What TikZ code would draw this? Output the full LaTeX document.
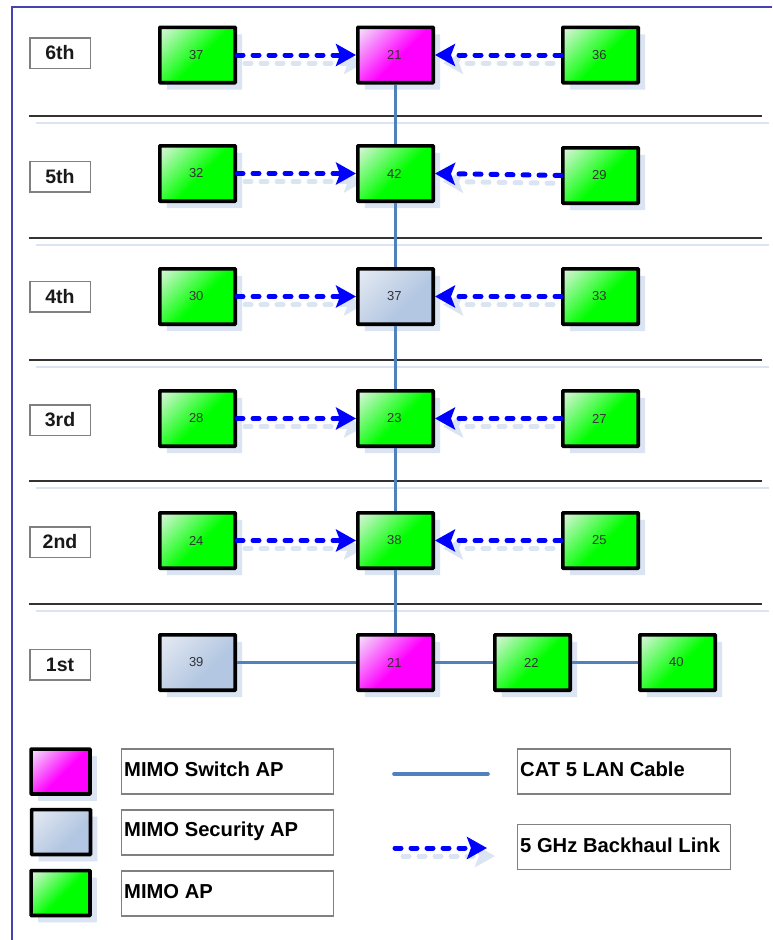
\documentclass[tikz,border=0pt]{standalone}
\usepackage{fontspec}
\setmainfont{Liberation Sans}
\usetikzlibrary{arrows.meta,shadows}
\pgfdeclarelayer{bg}
\pgfsetlayers{bg,main}
\definecolor{shadowblue}{HTML}{DAE4F2}
\definecolor{cable}{HTML}{4F81BD}
\definecolor{frameblue}{HTML}{4343B5}
\definecolor{apg}{HTML}{00FF00}
\definecolor{apgl}{HTML}{DDF5DD}
\definecolor{apm}{HTML}{FF00FF}
\definecolor{apml}{HTML}{F2E6FA}
\definecolor{aps}{HTML}{B4C7E2}
\definecolor{apsl}{HTML}{E6EBF3}
\pgfdeclareverticalshading{mimog}{100bp}{color(0bp)=(apg); color(47bp)=(apg); color(85bp)=(apgl); color(100bp)=(apgl)}
\pgfdeclareverticalshading{mimom}{100bp}{color(0bp)=(apm); color(47bp)=(apm); color(85bp)=(apml); color(100bp)=(apml)}
\pgfdeclareverticalshading{mimos}{100bp}{color(0bp)=(aps); color(40bp)=(aps); color(85bp)=(apsl); color(100bp)=(apsl)}
\tikzset{
  x=1pt,y=-1pt,
  apbox/.style={draw=black,line width=3.6pt,rounded corners=0.6pt,minimum width=75.4pt,minimum height=55.4pt,
    inner sep=0pt,shading angle=45,text=black!80,font=\fontsize{13}{15}\selectfont,
    execute at begin node=\kern-2.5pt,
    drop shadow={shadow xshift=7pt,shadow yshift=-7pt,fill=shadowblue,opacity=1}},
  apgreen/.style={apbox,shading=mimog},
  apswitch/.style={apbox,shading=mimom},
  apsec/.style={apbox,shading=mimos},
  swatch/.style={minimum width=58.9pt,minimum height=44.9pt},
  floor/.style={draw=black!50,line width=1.5pt,fill=white,minimum width=60.5pt,minimum height=30.5pt,inner sep=0pt,
    font=\bfseries\fontsize{19.5}{22}\selectfont,text=black!90},
  legendtext/.style={draw=black!50,line width=1.4pt,fill=white,minimum width=212.5pt,minimum height=45pt,inner sep=0pt},
  legendlabel/.style={anchor=west,inner sep=0pt,font=\bfseries\fontsize{20.2}{23}\selectfont,text=black},
  sepline/.style={draw=black!80,line width=2pt},
  sepshadow/.style={draw=shadowblue,line width=2pt},
  lan/.style={draw=cable,line width=3.6pt},
  link/.style={draw=blue,line width=5pt,line cap=round,dash pattern=on 6pt off 10pt,
    -{Stealth[length=20pt,width=22pt,inset=4pt,line cap=butt]}},
  linkshadow/.style={draw=shadowblue,line width=5pt,line cap=round,dash pattern=on 6pt off 10pt,
    -{Stealth[length=20pt,width=22pt,inset=4pt,line cap=butt]}},
}
\begin{document}
\begin{tikzpicture}
\useasboundingbox (0,0) rectangle (772,940);
\begin{pgfonlayer}{bg}
  \fill[white] (0,0) rectangle (772,940);
\end{pgfonlayer}
% frame
\coordinate (fa) at (11.5,940);
\coordinate (fb) at (11.5,6.5);
\coordinate (fc) at (772,6.5);
\draw[frameblue,line width=2pt] (fa) -- (fb) -- (fc);
% separators
\foreach \n/\y in {s1/116,s2/238,s3/360,s4/481,s5/604}{
  \coordinate (\n a) at (29,\y);
  \coordinate (\n b) at (762,\y);
  \coordinate (\n c) at (36,\y+7);
  \coordinate (\n d) at (769,\y+7);
  \begin{pgfonlayer}{bg}
    \draw[sepshadow] (\n c) -- (\n d);
  \end{pgfonlayer}
  \draw[sepline] (\n a) -- (\n b);
}
% floor labels
\node[floor] (f6) at (60,53) {6th};
\node[floor] (f5) at (60,176.5) {5th};
\node[floor] (f4) at (60,296.5) {4th};
\node[floor] (f3) at (60,420) {3rd};
\node[floor] (f2) at (60,542) {2nd};
\node[floor] (f1) at (60,664.5) {1st};
% access points
\node[apgreen] (a6l) at (197.5,55) {37};
\node[apswitch] (a6m) at (395.5,55) {21};
\node[apgreen] (a6r) at (600.5,55) {36};
\node[apgreen] (a5l) at (197.5,173.5) {32};
\node[apgreen] (a5m) at (395.5,173.5) {42};
\node[apgreen] (a5r) at (600.5,175.5) {29};
\node[apgreen] (a4l) at (197.5,296.5) {30};
\node[apsec] (a4m) at (395.5,296.5) {37};
\node[apgreen] (a4r) at (600.5,296.5) {33};
\node[apgreen] (a3l) at (197.5,418.5) {28};
\node[apgreen] (a3m) at (395.5,418.5) {23};
\node[apgreen] (a3r) at (600.5,418.5) {27};
\node[apgreen] (a2l) at (197.5,540.5) {24};
\node[apgreen] (a2m) at (395.5,540.5) {38};
\node[apgreen] (a2r) at (600.5,540.5) {25};
\node[apsec] (a1l) at (197.5,662.5) {39};
\node[apswitch] (a1m) at (395.5,662.5) {21};
\node[apgreen] (a1a) at (532.5,662.5) {22};
\node[apgreen] (a1b) at (677.5,662.5) {40};
% cables
\foreach \p/\q in {a6m/a5m,a5m/a4m,a4m/a3m,a3m/a2m,a2m/a1m}{
  \draw[lan] (\p.south) -- (\q.north);
}
\foreach \p/\q in {a1l/a1m,a1m/a1a,a1a/a1b}{
  \draw[lan] (\p.east) -- (\q.west);
}
% backhaul links
\foreach \r in {6,5,4,3,2}{
  \begin{pgfonlayer}{bg}
    \draw[linkshadow] ([xshift=8pt,yshift=-8pt]a\r l.east) -- ([xshift=8pt,yshift=-8pt]a\r m.west);
    \draw[linkshadow] ([xshift=8pt,yshift=-8pt]a\r r.west) -- ([xshift=8pt,yshift=-8pt]a\r m.east);
  \end{pgfonlayer}
  \draw[link] (a\r l.east) -- (a\r m.west);
  \draw[link] (a\r r.west) -- (a\r m.east);
}
% legend
\node[apswitch,swatch] (k1) at (60.5,771.5) {};
\node[apsec,swatch] (k2) at (61,832) {};
\node[apgreen,swatch] (k3) at (60.5,893) {};
\node[legendtext] (t1) at (227.5,771.5) {};
\node[legendtext] (t2) at (227.5,832.5) {};
\node[legendtext] (t3) at (227.5,893.5) {};
\node[legendtext] (t4) at (624,771.5) {};
\node[legendtext] (t5) at (624,847) {};
\node[legendlabel] at (124,769.5) {MIMO Switch AP};
\node[legendlabel] at (124,831) {MIMO Security AP};
\node[legendlabel] at (124,892) {MIMO AP};
\node[legendlabel] at (520,769.5) {CAT 5 LAN Cable};
\node[legendlabel] at (520,845.5) {5 GHz Backhaul Link};
\coordinate (l1a) at (394,774);
\coordinate (l1b) at (488,774);
\draw[lan,line cap=round] (l1a) -- (l1b);
\coordinate (l2a) at (395,848);
\coordinate (l2b) at (487,848);
\coordinate (l2c) at (403,856);
\coordinate (l2d) at (495,856);
\begin{pgfonlayer}{bg}
  \draw[linkshadow] (l2c) -- (l2d);
\end{pgfonlayer}
\draw[link] (l2a) -- (l2b);
\end{tikzpicture}
\end{document}
